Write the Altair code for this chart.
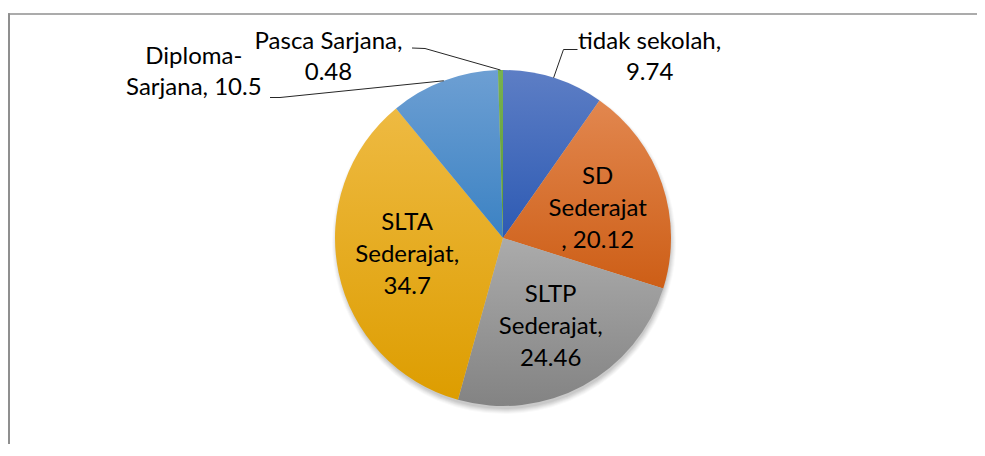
import math
import altair as alt
import pandas as pd

# ---- data ----
categories = ["tidak sekolah", "SD Sederajat", "SLTP Sederajat",
              "SLTA Sederajat", "Diploma-Sarjana", "Pasca Sarjana"]
values = [9.74, 20.12, 24.46, 34.7, 10.5, 0.48]
label_texts = ["tidak sekolah,\n9.74", "SD\nSederajat\n, 20.12",
               "SLTP\nSederajat,\n24.46", "SLTA\nSederajat,\n34.7",
               "Diploma-\nSarjana, 10.5", "Pasca Sarjana,\n0.48"]
order = [0, 1, 2, 3, 4, 5]

df = pd.DataFrame({"cat": categories, "value": values,
                   "label": label_texts, "idx": order})

# ---- layout / style ----
W, H = 969, 436
CX, CY, R = 495, 230, 168
FONT = "Lato"
FS = 24
LH_IN, LH_OUT = 32, 31
TWO_PI = 2 * math.pi

grads = {
    "tidak sekolah": ("#5D7EC5", "#2D5AB3"),
    "SD Sederajat": ("#E2874F", "#CD5E16"),
    "SLTP Sederajat": ("#ABABAB", "#838383"),
    "SLTA Sederajat": ("#EEBA42", "#DD9D00"),
    "Diploma-Sarjana": ("#6D9FD3", "#3B82C3"),
    "Pasca Sarjana": ("#78B24F", "#5D9937"),
}

theta_scale = alt.Scale(domain=[0, 100], range=[0, TWO_PI])

base = alt.Chart(df).transform_window(
    end="sum(value)", sort=[alt.SortField("idx")], frame=[None, 0]
).transform_calculate(
    start="datum.end - datum.value",
    mid="datum.end - datum.value / 2",
).transform_calculate(
    ex=f"{CX} + {R} * sin(datum.mid / 100 * 2 * PI)",
    ey=f"{CY} - {R} * cos(datum.mid / 100 * 2 * PI)",
)

one = alt.Chart(pd.DataFrame({"k": [0]}))

layers = []

# frame (top and left edges)
layers.append(one.mark_rule(color="#8f8f8f", strokeWidth=1.5).encode(
    x=alt.value(0), x2=alt.value(W), y=alt.value(6)))
layers.append(one.mark_rule(color="#8f8f8f", strokeWidth=2).encode(
    x=alt.value(1), y=alt.value(5.25), y2=alt.value(H)))

# soft shadow under the pie
for k, op in [(6, 0.025), (5, 0.03), (4, 0.035), (3, 0.04), (2, 0.045), (1, 0.05)]:
    layers.append(one.mark_arc(color="black", opacity=op, radius=R + k - 2).encode(
        theta=alt.value(0), theta2=alt.value(TWO_PI),
        x=alt.value(CX + 1), y=alt.value(CY + 4)))

# slices, each with its own gradient
for c in categories:
    top, bot = grads[c]
    layers.append(base.transform_filter(alt.datum.cat == c).mark_arc(
        radius=R,
        color=alt.Gradient(gradient="linear",
                           stops=[alt.GradientStop(color=top, offset=0),
                                  alt.GradientStop(color=bot, offset=1)],
                           x1=0, x2=0, y1=0, y2=1),
    ).encode(
        theta=alt.Theta("start:Q", scale=theta_scale, stack=None),
        theta2="end:Q",
        x=alt.value(CX), y=alt.value(CY),
    ))

# inside labels (3 lines each; shifted up so the block is centred)
inside = [("SD Sederajat", 0, 3), ("SLTP Sederajat", 0, 1), ("SLTA Sederajat", 2, -4)]
for c, dx, dy in inside:
    layers.append(base.transform_filter(alt.datum.cat == c).mark_text(
        font=FONT, fontSize=FS, lineBreak="\n", lineHeight=LH_IN,
        align="center", baseline="middle", color="black",
        dx=dx, dy=dy - LH_IN).encode(
        theta=alt.Theta("mid:Q", scale=theta_scale, stack=None),
        radius=alt.value(100),
        text="label:N",
        x=alt.value(CX), y=alt.value(CY),
    ))

# outside labels: (category, dx, dy, elbow, end)
outside = [
    ("tidak sekolah", 96, -20, (555.5, 41.5), (569.5, 41.5)),
    ("Pasca Sarjana", -172, -12.5, (417, 40.5), (404, 40)),
    ("Diploma-Sarjana", -250, -8, (272, 89.5), (262, 89.5)),
]
for c, dx, dy, elbow, end in outside:
    sub = base.transform_filter(alt.datum.cat == c)
    layers.append(sub.mark_text(font=FONT, fontSize=FS, lineBreak="\n", lineHeight=LH_OUT,
                                align="center", baseline="middle", color="black",
                                dx=dx, dy=dy - LH_OUT / 2).encode(
        theta=alt.Theta("mid:Q", scale=theta_scale, stack=None),
        radius=alt.value(R),
        text="label:N",
        x=alt.value(CX), y=alt.value(CY),
    ))
    layers.append(sub.mark_rule(color="#262626", strokeWidth=1).encode(
        x=alt.X("ex:Q", scale=None), y=alt.Y("ey:Q", scale=None),
        x2=alt.value(elbow[0]), y2=alt.value(elbow[1]),
    ))
    layers.append(sub.mark_rule(color="#262626", strokeWidth=1).encode(
        x=alt.value(elbow[0]), y=alt.value(elbow[1]),
        x2=alt.value(end[0]), y2=alt.value(end[1]),
    ))

chart = alt.layer(*layers).properties(
    width=W, height=H, padding=0,
    autosize=alt.AutoSizeParams(type="none"),
    background="white",
).configure_view(stroke=None)

chart.save("out.html", embed_options={"renderer": "svg", "actions": False})
